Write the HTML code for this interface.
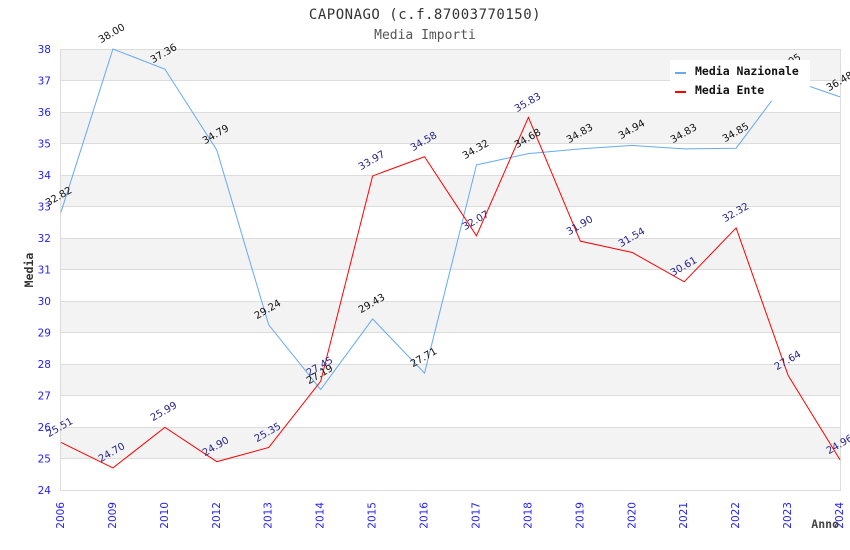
<!DOCTYPE html>
<html><head><meta charset="utf-8"><style>
html,body{margin:0;padding:0;background:#fff;}
svg{display:block;}
.dl{font-family:"DejaVu Sans","Liberation Sans",sans-serif;font-size:10px;}
.tk{font-family:"DejaVu Sans","Liberation Sans",sans-serif;font-size:10.5px;fill:#1f1fff;}
.mono{font-family:"DejaVu Sans Mono","Liberation Mono",monospace;}
</style></head><body>
<svg width="850" height="550" viewBox="0 0 850 550" xmlns="http://www.w3.org/2000/svg">
<rect width="850" height="550" fill="#fff"/>
<g fill="#f3f3f3">
<rect x="61" y="49" width="779" height="31.5"/>
<rect x="61" y="112" width="779" height="31.5"/>
<rect x="61" y="175" width="779" height="31.5"/>
<rect x="61" y="238" width="779" height="31.5"/>
<rect x="61" y="301" width="779" height="31.5"/>
<rect x="61" y="364" width="779" height="31.5"/>
<rect x="61" y="427" width="779" height="31.5"/>
</g>
<g stroke="#dcdcdc" stroke-width="1">
<line x1="61" y1="49.5" x2="840" y2="49.5"/>
<line x1="61" y1="80.5" x2="840" y2="80.5"/>
<line x1="61" y1="112.5" x2="840" y2="112.5"/>
<line x1="61" y1="143.5" x2="840" y2="143.5"/>
<line x1="61" y1="175.5" x2="840" y2="175.5"/>
<line x1="61" y1="206.5" x2="840" y2="206.5"/>
<line x1="61" y1="238.5" x2="840" y2="238.5"/>
<line x1="61" y1="269.5" x2="840" y2="269.5"/>
<line x1="61" y1="301.5" x2="840" y2="301.5"/>
<line x1="61" y1="332.5" x2="840" y2="332.5"/>
<line x1="61" y1="364.5" x2="840" y2="364.5"/>
<line x1="61" y1="395.5" x2="840" y2="395.5"/>
<line x1="61" y1="427.5" x2="840" y2="427.5"/>
<line x1="61" y1="458.5" x2="840" y2="458.5"/>
<line x1="61" y1="490.5" x2="840" y2="490.5"/>
<line x1="60.5" y1="49" x2="60.5" y2="491"/>
<line x1="840.5" y1="49" x2="840.5" y2="491"/>
</g>
<g class="tk" text-anchor="end">
<text x="51" y="53">38</text>
<text x="51" y="84.5">37</text>
<text x="51" y="116">36</text>
<text x="51" y="147.5">35</text>
<text x="51" y="179">34</text>
<text x="51" y="210.5">33</text>
<text x="51" y="242">32</text>
<text x="51" y="273.5">31</text>
<text x="51" y="305">30</text>
<text x="51" y="336.5">29</text>
<text x="51" y="368">28</text>
<text x="51" y="399.5">27</text>
<text x="51" y="431">26</text>
<text x="51" y="462.5">25</text>
<text x="51" y="494">24</text>
</g>
<g class="tk" text-anchor="end" dominant-baseline="central">
<text transform="translate(61,502) rotate(-90)">2006</text>
<text transform="translate(112.93,502) rotate(-90)">2009</text>
<text transform="translate(164.87,502) rotate(-90)">2010</text>
<text transform="translate(216.8,502) rotate(-90)">2012</text>
<text transform="translate(268.73,502) rotate(-90)">2013</text>
<text transform="translate(320.67,502) rotate(-90)">2014</text>
<text transform="translate(372.6,502) rotate(-90)">2015</text>
<text transform="translate(424.53,502) rotate(-90)">2016</text>
<text transform="translate(476.47,502) rotate(-90)">2017</text>
<text transform="translate(528.4,502) rotate(-90)">2018</text>
<text transform="translate(580.33,502) rotate(-90)">2019</text>
<text transform="translate(632.27,502) rotate(-90)">2020</text>
<text transform="translate(684.2,502) rotate(-90)">2021</text>
<text transform="translate(736.13,502) rotate(-90)">2022</text>
<text transform="translate(788.07,502) rotate(-90)">2023</text>
<text transform="translate(840,502) rotate(-90)">2024</text>
</g>
<polyline fill="none" stroke="#66aaf0" stroke-width="1" points="61,212.17 112.93,49 164.87,69.16 216.8,150.12 268.73,324.94 320.67,389.52 372.6,318.96 424.53,373.14 476.47,164.92 528.4,153.58 580.33,148.86 632.27,145.39 684.2,148.86 736.13,148.23 788.07,78.93 840,96.88"/>
<polyline fill="none" stroke="#ff0000" stroke-width="1" points="61,442.44 112.93,467.95 164.87,427.32 216.8,461.65 268.73,447.48 320.67,381.33 372.6,175.95 424.53,156.73 476.47,235.8 528.4,117.36 580.33,241.15 632.27,252.49 684.2,281.79 736.13,227.92 788.07,375.34 840,459.76"/>
<g class="dl" fill="#111" text-anchor="middle" dominant-baseline="central">
<text transform="translate(59,197) rotate(-30)">32.82</text>
<text transform="translate(112,34) rotate(-30)">38.00</text>
<text transform="translate(164,54) rotate(-30)">37.36</text>
<text transform="translate(216,135) rotate(-30)">34.79</text>
<text transform="translate(268,310) rotate(-30)">29.24</text>
<text transform="translate(320,375) rotate(-30)">27.19</text>
<text transform="translate(372,304) rotate(-30)">29.43</text>
<text transform="translate(424,358) rotate(-30)">27.71</text>
<text transform="translate(476,150) rotate(-30)">34.32</text>
<text transform="translate(528,139) rotate(-30)">34.68</text>
<text transform="translate(580,134) rotate(-30)">34.83</text>
<text transform="translate(632,130) rotate(-30)">34.94</text>
<text transform="translate(684,134) rotate(-30)">34.83</text>
<text transform="translate(736,133) rotate(-30)">34.85</text>
<text transform="translate(788,64) rotate(-30)">37.05</text>
<text transform="translate(840,82) rotate(-30)">36.48</text>
</g>
<g class="dl" fill="#24248c" text-anchor="middle" dominant-baseline="central">
<text transform="translate(60,428) rotate(-30)">25.51</text>
<text transform="translate(112,453) rotate(-30)">24.70</text>
<text transform="translate(164,412) rotate(-30)">25.99</text>
<text transform="translate(216,447) rotate(-30)">24.90</text>
<text transform="translate(268,433) rotate(-30)">25.35</text>
<text transform="translate(320,367) rotate(-30)">27.45</text>
<text transform="translate(372,161) rotate(-30)">33.97</text>
<text transform="translate(424,142) rotate(-30)">34.58</text>
<text transform="translate(476,221) rotate(-30)">32.07</text>
<text transform="translate(528,103) rotate(-30)">35.83</text>
<text transform="translate(580,226) rotate(-30)">31.90</text>
<text transform="translate(632,238) rotate(-30)">31.54</text>
<text transform="translate(684,267) rotate(-30)">30.61</text>
<text transform="translate(736,213) rotate(-30)">32.32</text>
<text transform="translate(788,361) rotate(-30)">27.64</text>
<text transform="translate(840,445) rotate(-30)">24.96</text>
</g>
<rect x="670" y="60" width="140" height="41" fill="#fff"/>
<line x1="675" y1="73" x2="686" y2="73" stroke="#66aaf0" stroke-width="2"/>
<line x1="675" y1="92" x2="686" y2="92" stroke="#ff0000" stroke-width="2"/>
<g class="mono" font-size="11.5" font-weight="bold" fill="#111">
<text x="695" y="75">Media Nazionale</text>
<text x="695" y="94">Media Ente</text>
</g>
<text class="mono" x="425" y="19" text-anchor="middle" font-size="14" letter-spacing="0.5" fill="#333">CAPONAGO (c.f.87003770150)</text>
<text class="mono" x="425" y="39" text-anchor="middle" font-size="13" fill="#555">Media Importi</text>
<text class="mono" transform="translate(33,270) rotate(-90)" text-anchor="middle" font-size="11.5" font-weight="bold" fill="#333">Media</text>
<text class="mono" x="839" y="528" text-anchor="end" font-size="11.5" font-weight="bold" fill="#444">Anno</text>
</svg>
</body></html>
